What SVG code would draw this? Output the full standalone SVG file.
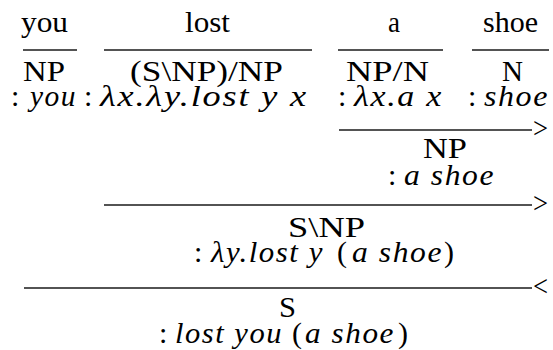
<svg xmlns="http://www.w3.org/2000/svg" width="553" height="350" viewBox="0 0 553 350">
<style>
.r { font-family: "Liberation Serif", "Times New Roman", serif; font-size: 30px; font-style: normal; fill: #000; }
.i { font-family: "Liberation Serif", "Times New Roman", serif; font-size: 30px; font-style: italic; letter-spacing: 1.5px; fill: #000; }
.rule { stroke: #1a1a1a; stroke-width: 1.3; fill: none; }
</style>
<rect width="553" height="350" fill="#fff"/>
<g id="connectors">
  <line class="rule" x1="23" y1="50" x2="77" y2="50"/>
  <line class="rule" x1="104" y1="50" x2="312" y2="50"/>
  <line class="rule" x1="338" y1="50" x2="443" y2="50"/>
  <line class="rule" x1="472" y1="50" x2="549" y2="50"/>
  <line class="rule" x1="339" y1="130" x2="532" y2="130"/>
  <text class="r" x="533" y="138" textLength="15" lengthAdjust="spacingAndGlyphs">&gt;</text>
  <line class="rule" x1="104" y1="205" x2="532" y2="205"/>
  <text class="r" x="533" y="213" textLength="15" lengthAdjust="spacingAndGlyphs">&gt;</text>
  <line class="rule" x1="24" y1="288" x2="532" y2="288"/>
  <text class="r" x="533" y="296" textLength="15" lengthAdjust="spacingAndGlyphs">&lt;</text>
</g>
<g id="node-you">
  <text class="r" x="21" y="32" textLength="47" lengthAdjust="spacingAndGlyphs">you</text>
  <text class="r" x="23" y="81" textLength="42" lengthAdjust="spacingAndGlyphs">NP</text>
  <text class="r" x="11" y="106">:</text>
  <text class="i" x="30" y="106" textLength="47" lengthAdjust="spacingAndGlyphs">you</text>
</g>
<g id="node-lost">
  <text class="r" x="185" y="32" textLength="45" lengthAdjust="spacingAndGlyphs">lost</text>
  <text class="r" x="130" y="81" textLength="153" lengthAdjust="spacingAndGlyphs">(S\NP)/NP</text>
  <text class="r" x="84" y="106">:</text>
  <text class="i" x="100" y="106" textLength="208" lengthAdjust="spacingAndGlyphs">λx.λy.lost y x</text>
</g>
<g id="node-a">
  <text class="r" x="388" y="32" textLength="12" lengthAdjust="spacingAndGlyphs">a</text>
  <text class="r" x="346" y="81" textLength="83" lengthAdjust="spacingAndGlyphs">NP/N</text>
  <text class="r" x="338" y="106">:</text>
  <text class="i" x="354" y="106" textLength="89" lengthAdjust="spacingAndGlyphs">λx.a x</text>
</g>
<g id="node-shoe">
  <text class="r" x="483" y="32" textLength="55" lengthAdjust="spacingAndGlyphs">shoe</text>
  <text class="r" x="502" y="81" textLength="21" lengthAdjust="spacingAndGlyphs">N</text>
  <text class="r" x="468" y="106">:</text>
  <text class="i" x="484" y="106" textLength="65" lengthAdjust="spacingAndGlyphs">shoe</text>
</g>
<g id="node-np">
  <text class="r" x="423" y="158" textLength="44" lengthAdjust="spacingAndGlyphs">NP</text>
  <text class="r" x="388" y="185">:</text>
  <text class="i" x="404" y="185" textLength="91" lengthAdjust="spacingAndGlyphs">a shoe</text>
</g>
<g id="node-snp">
  <text class="r" x="288" y="237" textLength="77" lengthAdjust="spacingAndGlyphs">S\NP</text>
  <text class="r" x="194" y="262">:</text>
  <text class="i" x="211" y="262" textLength="113" lengthAdjust="spacingAndGlyphs">λy.lost y</text>
  <text class="r" x="337" y="262">(</text>
  <text class="i" x="352" y="262" textLength="91" lengthAdjust="spacingAndGlyphs">a shoe</text>
  <text class="r" x="444" y="262">)</text>
</g>
<g id="node-s">
  <text class="r" x="279" y="317" textLength="17" lengthAdjust="spacingAndGlyphs">S</text>
  <text class="r" x="159" y="343">:</text>
  <text class="i" x="175" y="343" textLength="108" lengthAdjust="spacingAndGlyphs">lost you</text>
  <text class="r" x="292" y="343">(</text>
  <text class="i" x="305" y="343" textLength="90" lengthAdjust="spacingAndGlyphs">a shoe</text>
  <text class="r" x="398" y="343">)</text>
</g>
</svg>
